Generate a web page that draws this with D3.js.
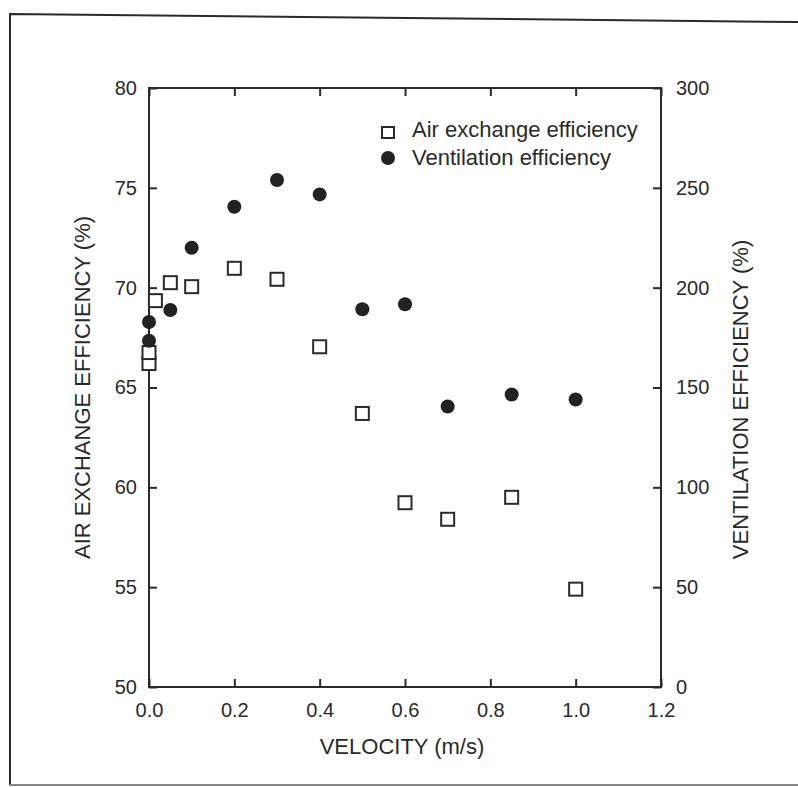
<!DOCTYPE html>
<html>
<head>
<meta charset="utf-8">
<script src="https://cdn.jsdelivr.net/npm/d3@7"></script>
<style>
  html, body { margin: 0; padding: 0; background: #fff; }
  svg { display: block; }
  text { font-family: "Liberation Sans", Arial, Helvetica, sans-serif; fill: #2a2a2a; }
</style>
</head>
<body>
<svg id="chart" width="798" height="787"></svg>
<script>
// ---- data ----
const velocityAir = [0.0, 0.0, 0.015, 0.05, 0.1, 0.2, 0.3, 0.4, 0.5, 0.6, 0.7, 0.85, 1.0];
const airExchange = [66.2, 66.75, 69.35, 70.25, 70.05, 70.97, 70.42, 67.04, 63.7, 59.23, 58.4, 59.5, 54.9];
const velocityVent = [0.0, 0.0, 0.05, 0.1, 0.2, 0.3, 0.4, 0.5, 0.6, 0.7, 0.85, 1.0];
const ventilation = [182.8, 173.4, 188.8, 220.0, 240.5, 253.9, 246.7, 189.2, 191.7, 140.5, 146.5, 144.0];
const xTicks = [0.0, 0.2, 0.4, 0.6, 0.8, 1.0, 1.2];
const yLeftTicks = [50, 55, 60, 65, 70, 75, 80];
const yRightTicks = [0, 50, 100, 150, 200, 250, 300];
const legendLabels = ["Air exchange efficiency", "Ventilation efficiency"];

const svg = d3.select("#chart");
const ink = "#2a2a2a";

const L = 149, R = 661, T = 88, B = 687;
const x = d3.scaleLinear().domain([0, 1.2]).range([L, R]);
const yL = d3.scaleLinear().domain([50, 80]).range([B, T]);
const yR = d3.scaleLinear().domain([0, 300]).range([B, T]);

// outer frame (scanned page border)
const frame = svg.append("g").attr("fill", "none").attr("stroke", ink).attr("stroke-width", 2);
frame.append("path").attr("d", "M10,785 L10,14 L798,22");
frame.append("path").attr("d", "M10,785 L798,785").attr("stroke", "#888").attr("stroke-width", 2);

const tickFont = 20;

function styleAxis(g) {
  g.select(".domain").remove();
  g.selectAll(".tick line").attr("stroke", ink).attr("stroke-width", 2);
  g.selectAll(".tick text").attr("font-size", tickFont).attr("fill", ink)
    .style("font-family", '"Liberation Sans", Arial, sans-serif');
}

// bottom axis
svg.append("g").attr("transform", `translate(0,${B})`)
  .call(d3.axisBottom(x).tickValues(xTicks).tickFormat(d3.format(".1f")).tickSize(-8).tickSizeOuter(0).tickPadding(16))
  .call(styleAxis);
// top axis (ticks only)
svg.append("g").attr("transform", `translate(0,${T})`)
  .call(d3.axisTop(x).tickValues(xTicks).tickFormat("").tickSize(-8).tickSizeOuter(0))
  .call(styleAxis);
// left axis
svg.append("g").attr("transform", `translate(${L},0)`)
  .call(d3.axisLeft(yL).tickValues(yLeftTicks).tickSize(-8).tickSizeOuter(0).tickPadding(12))
  .call(styleAxis);
// right axis
svg.append("g").attr("transform", `translate(${R},0)`)
  .call(d3.axisRight(yR).tickValues(yRightTicks).tickSize(-8).tickSizeOuter(0).tickPadding(15))
  .call(styleAxis);

// plot box
svg.append("rect").attr("x", L).attr("y", T).attr("width", R - L).attr("height", B - T)
  .attr("fill", "none").attr("stroke", ink).attr("stroke-width", 2);

// axis titles
svg.append("text").attr("x", (L + R) / 2 - 3).attr("y", 754).attr("text-anchor", "middle")
  .attr("font-size", 22).text("VELOCITY (m/s)");
svg.append("text").attr("transform", `translate(90,${(T + B) / 2}) rotate(-90)`)
  .attr("text-anchor", "middle").attr("font-size", 22).text("AIR EXCHANGE EFFICIENCY (%)");
svg.append("text").attr("transform", `translate(748,${(T + B) / 2 + 12}) rotate(-90)`)
  .attr("text-anchor", "middle").attr("font-size", 22).text("VENTILATION EFFICIENCY (%)");

// markers
const sq = 13;
svg.append("g").selectAll("rect").data(velocityAir.map((v, i) => [v, airExchange[i]]))
  .join("rect")
  .attr("x", d => x(d[0]) - sq / 2).attr("y", d => yL(d[1]) - sq / 2)
  .attr("width", sq).attr("height", sq)
  .attr("fill", "#fff").attr("stroke", ink).attr("stroke-width", 2);

svg.append("g").selectAll("circle").data(velocityVent.map((v, i) => [v, ventilation[i]]))
  .join("circle")
  .attr("cx", d => x(d[0])).attr("cy", d => yR(d[1])).attr("r", 7)
  .attr("fill", "#222");

// legend
const lg = svg.append("g");
lg.append("rect").attr("x", 382).attr("y", 127).attr("width", 12).attr("height", 11)
  .attr("fill", "#fff").attr("stroke", ink).attr("stroke-width", 2);
lg.append("circle").attr("cx", 388).attr("cy", 158).attr("r", 7).attr("fill", "#222");
lg.append("text").attr("x", 412).attr("y", 137).attr("font-size", 22).text(legendLabels[0]);
lg.append("text").attr("x", 412).attr("y", 165).attr("font-size", 22).text(legendLabels[1]);
</script>
</body>
</html>
